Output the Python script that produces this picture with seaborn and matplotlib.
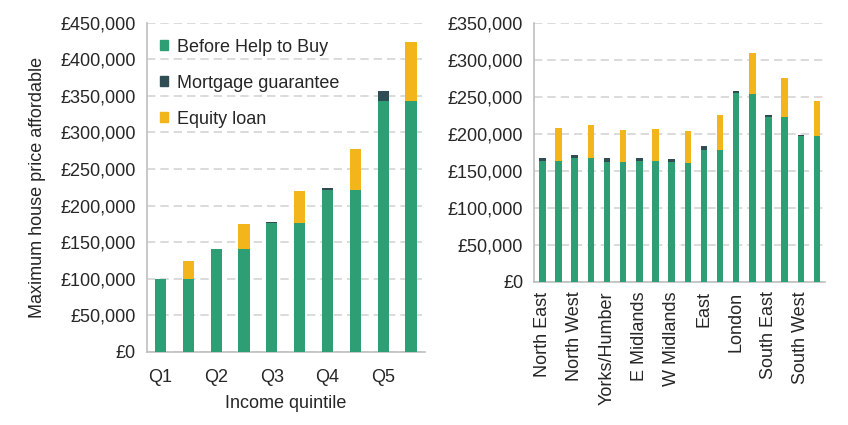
import matplotlib
matplotlib.use("Agg")
import matplotlib.pyplot as plt
import matplotlib.ticker as mticker
from matplotlib.patches import Patch
import pandas as pd
import seaborn as sns

# left panel: income quintiles, two bars per quintile (mortgage guarantee, equity loan)
quintiles = ["Q1", "Q2", "Q3", "Q4", "Q5"]
q_before = [100100, 100100, 140600, 140600, 176500, 176300, 221500, 221300, 342700, 342700]
q_guarantee = [0, 0, 0, 0, 1000, 0, 1800, 0, 14100, 0]
q_equity = [0, 24600, 0, 34600, 0, 43500, 0, 55800, 0, 81000]

# right panel: regions
regions = ["North East", "North West", "Yorks/Humber", "E Midlands", "W Midlands",
           "East", "London", "South East", "South West"]
r_before = [163500, 163100, 167600, 167100, 162200, 161700, 163500, 163100, 161300,
            161000, 177900, 177500, 255000, 253600, 222500, 222100, 196800, 196400]
r_guarantee = [3600, 0, 4000, 0, 4500, 0, 3600, 0, 4500, 0, 5000, 0, 2200, 0, 3200, 0, 1800, 0]
r_equity = [0, 44100, 0, 44200, 0, 42800, 0, 43200, 0, 43100, 0, 48200, 0, 55000, 0, 53100, 0, 47700]

GREEN = "#2E9E74"
DARK = "#2F4D53"
YELLOW = "#F2B51C"
GRID = "#D4D4D4"
SPINE = "#BFBFBF"

sns.set_style("white")
plt.rcParams["font.family"] = ["Liberation Sans", "DejaVu Sans"]
plt.rcParams["font.size"] = 13


def stacked(ax, groups, before, guarantee, equity, ymax, xpad):
    n = len(before)
    slots = [f"s{i}" for i in range(n)]
    df = pd.DataFrame({
        "slot": slots,
        "before": before,
        "mid": [b + g for b, g in zip(before, guarantee)],
        "total": [b + g + e for b, g, e in zip(before, guarantee, equity)],
    })
    for col, colour in (("total", YELLOW), ("mid", DARK), ("before", GREEN)):
        sns.barplot(data=df, x="slot", y=col, order=slots, color=colour,
                    width=0.4, saturation=1, linewidth=0, ax=ax, zorder=3)

    ax.set_xlim(-0.5, n - 0.5)
    ax.set_ylim(0, ymax)
    ax.yaxis.set_major_locator(mticker.MultipleLocator(50000))
    ax.yaxis.set_major_formatter(mticker.FuncFormatter(lambda v, p: f"£{v:,.0f}"))

    # labels under the first bar of each pair, tick marks at group boundaries
    ax.set_xticks(range(0, n, 2))
    ax.set_xticklabels(groups)
    ax.set_xticks([i - 0.5 for i in range(0, n + 1, 2)], minor=True)
    ax.tick_params(axis="x", which="major", length=0, pad=xpad)
    ax.tick_params(axis="x", which="minor", length=5, color=SPINE, width=1)
    ax.tick_params(axis="y", length=5, color=SPINE, width=1, pad=3)

    ax.yaxis.grid(True, color=GRID, linestyle=(0, (5, 3)), linewidth=1.2, zorder=0)
    ax.set_axisbelow(True)
    sns.despine(ax=ax)
    for s in ("left", "bottom"):
        ax.spines[s].set_color(SPINE)
        ax.spines[s].set_linewidth(1.2)
    ax.set_xlabel("")
    ax.set_ylabel("")


fig = plt.figure(figsize=(8.48, 4.25), dpi=100)
ax1 = fig.add_axes([0.173, 0.172, 0.328, 0.775])
ax2 = fig.add_axes([0.630, 0.337, 0.343, 0.610])

stacked(ax1, quintiles, q_before, q_guarantee, q_equity, 450000, 12)
stacked(ax2, regions, r_before, r_guarantee, r_equity, 350000, 7)

ax1.set_xlabel("Income quintile", labelpad=7)
ax1.set_ylabel("Maximum house price affordable", labelpad=10)
plt.setp(ax2.get_xticklabels(), rotation=90)

handles = [Patch(color=GREEN), Patch(color=DARK), Patch(color=YELLOW)]
ax1.legend(handles, ["Before Help to Buy", "Mortgage guarantee", "Equity loan"],
           loc="upper left", bbox_to_anchor=(-0.012, 1.0), frameon=False,
           handlelength=0.45, handleheight=0.45, handletextpad=0.5,
           labelspacing=1.05, fontsize=13)

fig.savefig("out.png", dpi=100)
